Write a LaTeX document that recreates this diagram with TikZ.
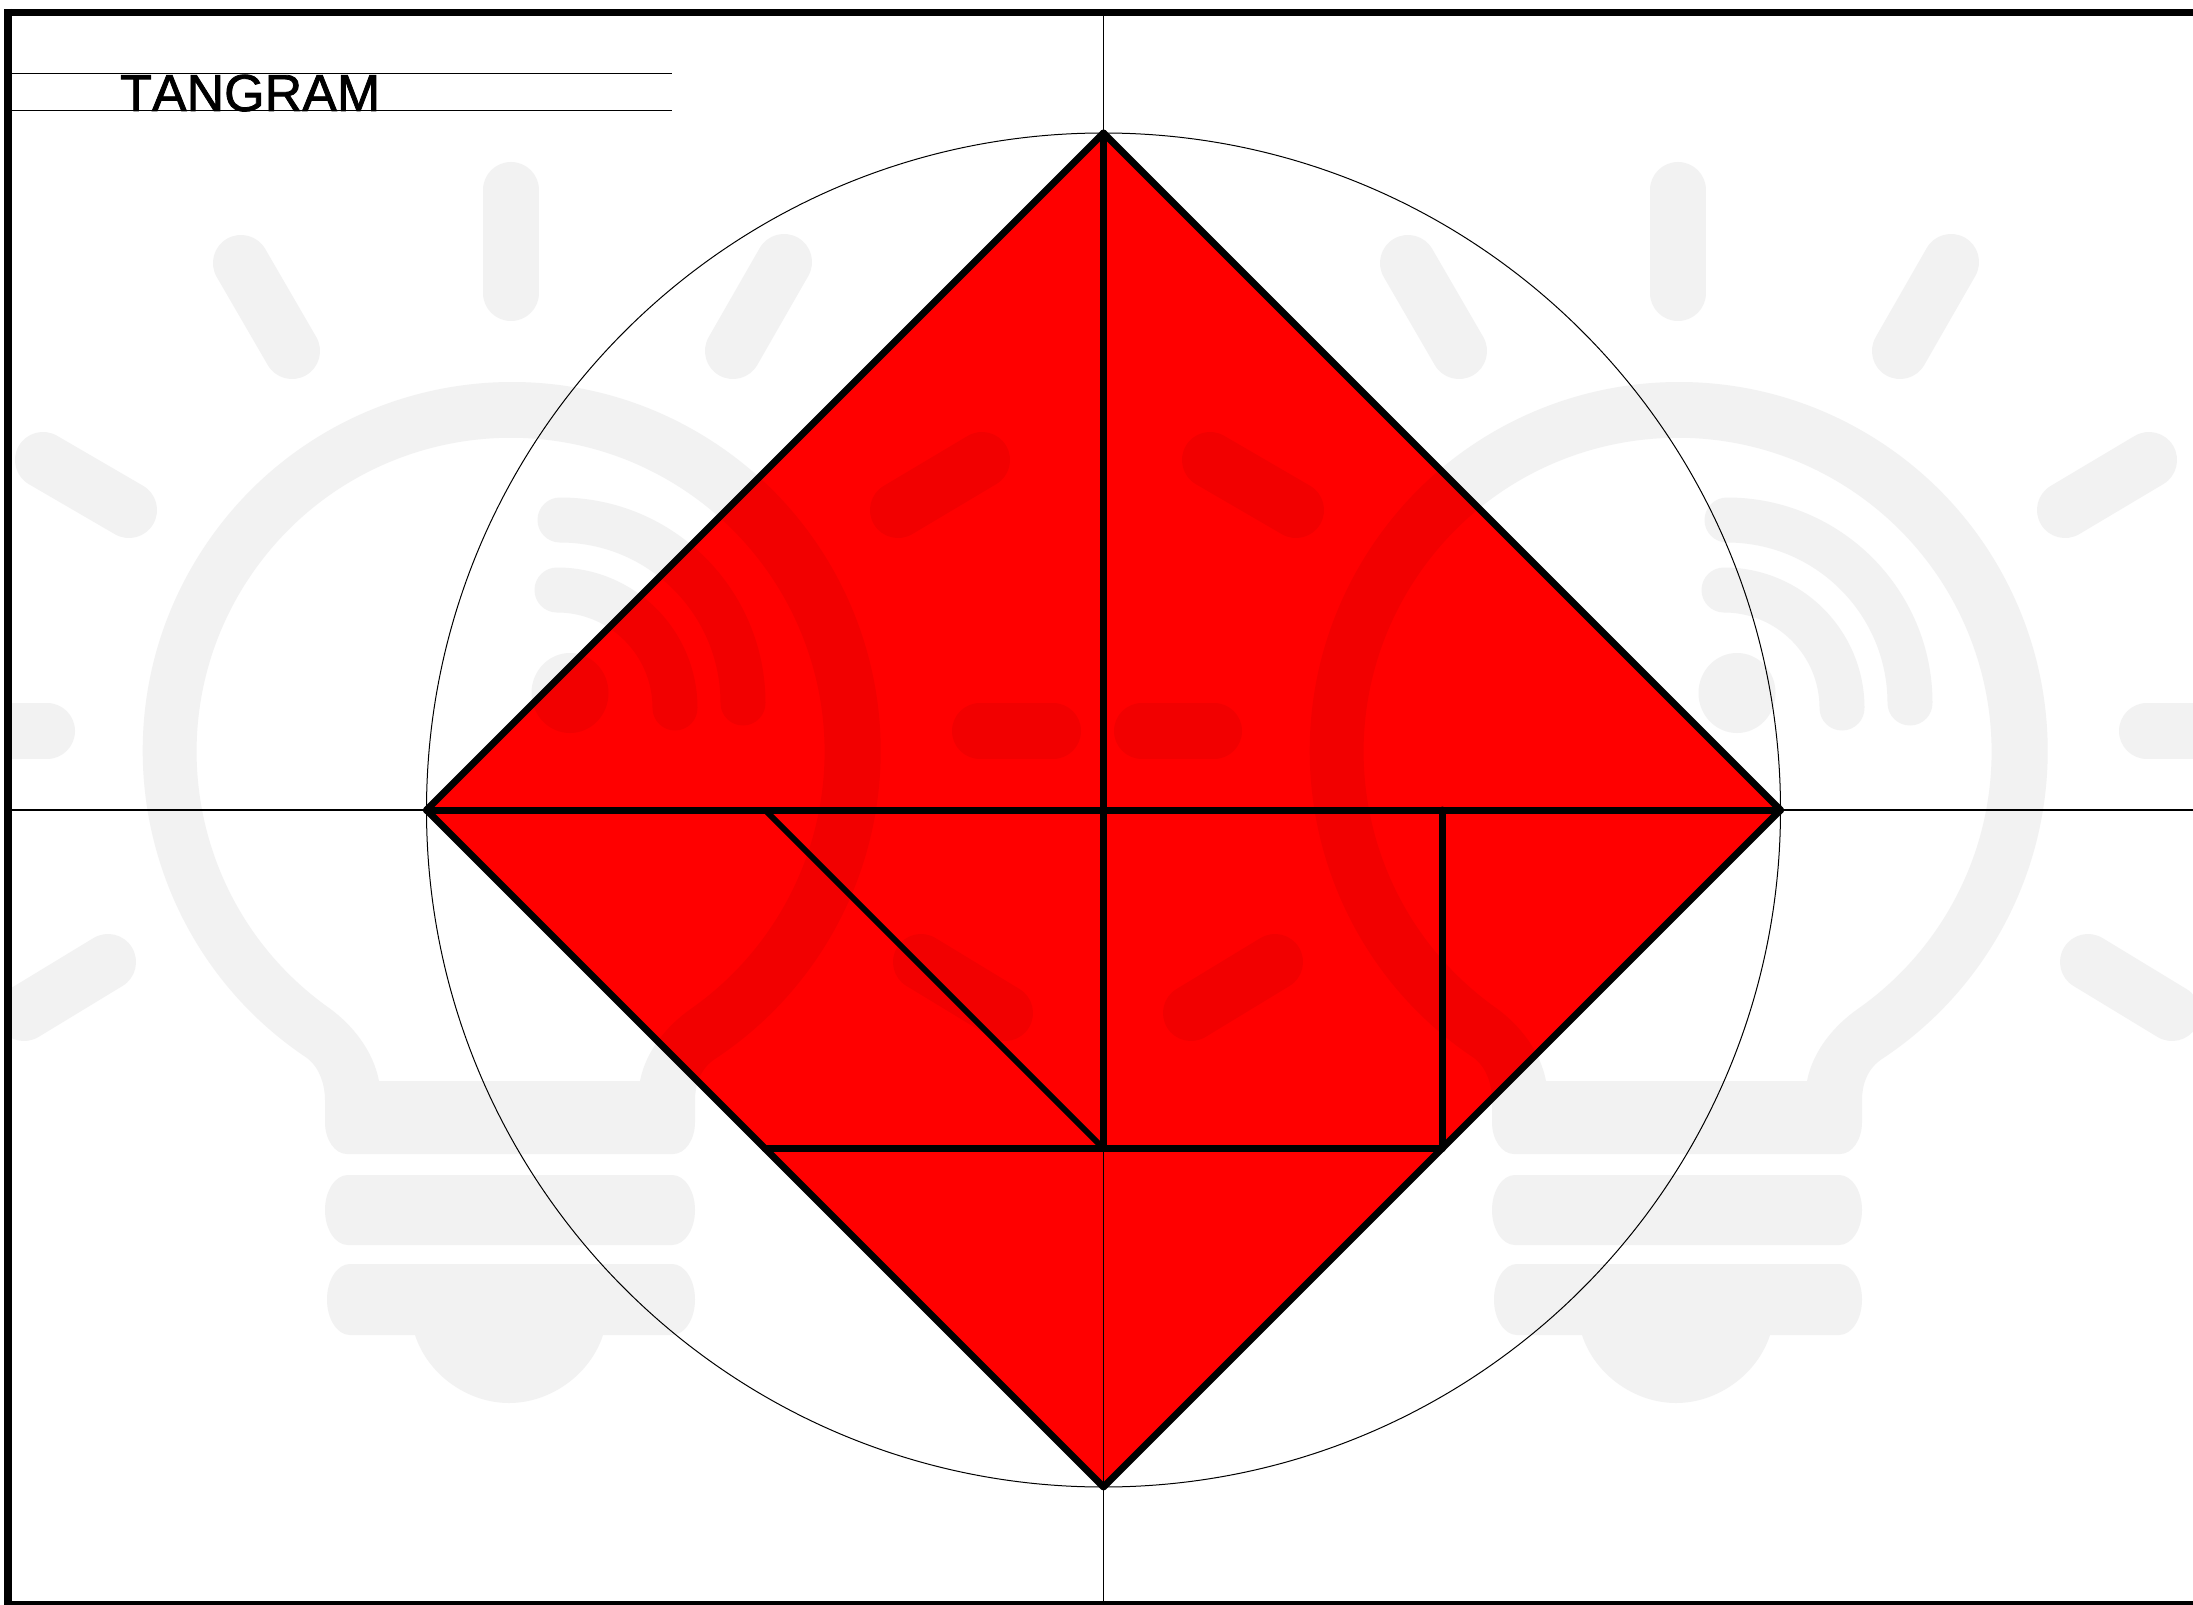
\documentclass[tikz,border=0pt]{standalone}
\usepackage{fontspec}
\setmainfont{Liberation Sans}[Kerning=Off]
\definecolor{wmgray}{HTML}{F2F2F2}
\definecolor{wmred}{HTML}{F20000}
\definecolor{tanred}{HTML}{FF0000}
\newcommand{\bulbshapes}[1]{%
  \fill[#1,even odd rule]
    (307,1058) arc[start angle=123.7,end angle=416.3,radius=369]
    .. controls (700,1068) and (695,1085) .. (695,1100) -- (695,1122)
    .. controls (695,1140) and (685,1154) .. (673,1154) -- (347,1154)
    .. controls (335,1154) and (325,1140) .. (325,1122) -- (325,1100)
    .. controls (325,1085) and (320,1068) .. (307,1058) -- cycle
    (330.5,1009) arc[start angle=125,end angle=415,radius=314]
    .. controls (668,1025) and (646,1050) .. (640,1081) -- (379,1081)
    .. controls (373,1050) and (352,1025) .. (330.5,1009) -- cycle;
  \fill[#1] (348,1175) -- (672,1175) arc[start angle=-90,end angle=90,x radius=23,y radius=35]
    -- (348,1245) arc[start angle=90,end angle=270,x radius=23,y radius=35] -- cycle;
  \fill[#1] (350,1264) -- (672,1264) arc[start angle=-90,end angle=90,x radius=23,y radius=35.5]
    -- (603,1335) .. controls (590,1375) and (550,1403) .. (509,1403)
    .. controls (468,1403) and (428,1375) .. (415,1335)
    -- (350,1335) arc[start angle=90,end angle=270,x radius=23,y radius=35.5] -- cycle;
  \begin{scope}[#1,line cap=round,line width=56pt]
    \draw (511,190) -- (511,293);
    \draw (241,263) -- (292,351);
    \draw (784,262) -- (733,351);
    \draw (43,460) -- (129,510);
    \draw (982,460) -- (898,510);
    \draw (-25,731) -- (47,731);
    \draw (980,731) -- (1053,731);
    \draw (108,962) -- (24,1013);
    \draw (921,962) -- (1005,1013);
  \end{scope}
  \begin{scope}[#1,line cap=round,line width=45pt]
    \draw (560,520) arc[start angle=-90,end angle=0,radius=183];
    \draw (557,590) arc[start angle=-90,end angle=0,radius=118];
  \end{scope}
  \fill[#1] (570,693) ellipse[x radius=38.5,y radius=40];
}
\newcommand{\bothbulbs}[1]{%
  \bulbshapes{#1}%
  \begin{scope}[xshift=1167pt]\bulbshapes{#1}\end{scope}%
}
\tikzset{
  thinline/.style={draw=black,line width=1.1pt},
  thickline/.style={draw=black,line width=7pt,line cap=round},
  rimline/.style={draw=black,line width=7pt,line join=round,line cap=round},
  diagline/.style={draw=black,line width=6pt,line cap=round},
  frameline/.style={draw=black,line cap=butt},
  titletext/.style={inner sep=0pt,anchor=base west,font=\fontsize{52pt}{52pt}\selectfont\addfontfeature{FakeBold=1.5},text=black},
}
\begin{document}
\begin{tikzpicture}[x=1pt,y=1pt,yscale=-1]
  \useasboundingbox (0,0) rectangle (2193,1605);
  \fill[white] (0,0) rectangle (2193,1605);
  \coordinate (T) at (1103.5,133);
  \coordinate (R) at (1780.5,810);
  \coordinate (B) at (1103.5,1487);
  \coordinate (L) at (426.5,810);
  \coordinate (O) at (1103.5,810);
  \coordinate (H1) at (765,810);
  \coordinate (H2) at (1442,810);
  \coordinate (LL) at (765,1148.5);
  \coordinate (MM) at (1103.5,1148.5);
  \coordinate (RR) at (1442,1148.5);
  \coordinate (FT) at (1103.5,12.5);
  \coordinate (FB) at (1103.5,1603);
  \coordinate (FL) at (9,810);
  \coordinate (FR) at (2193,810);
  % watermark
  \begin{scope}
    \clip (4,0) rectangle (2193,1605);
    \bothbulbs{wmgray}
  \end{scope}
  % tangram fill, watermark through it
  \fill[tanred] (T) -- (R) -- (B) -- (L) -- cycle;
  \begin{scope}
    \clip (T) -- (R) -- (B) -- (L) -- cycle;
    \bothbulbs{wmred}
  \end{scope}
  % construction lines
  \draw[thinline] (FL) -- (FR);
  \draw[thinline] (FT) -- (FB);
  \draw[black,line width=1pt] (O) circle[radius=677];
  % tangram pieces
  \draw[rimline] (T) -- (R) -- (B) -- (L) -- cycle;
  \draw[thickline] (T) -- (MM);
  \draw[thickline] (L) -- (R);
  \draw[thickline] (LL) -- (RR);
  \draw[thickline] (H2) -- (RR);
  \draw[diagline] (H1) -- (MM);
  % title
  \draw[black,line width=1pt] (9,74) -- (672,74);
  \draw[black,line width=1pt] (9,111) -- (672,111);
  \node[titletext] (title) at (120,111) {TANGRAM};
  % frame
  \draw[frameline,line width=7.5pt] (4,12.5) -- (2193,12.5);
  \draw[frameline,line width=8pt] (8.3,9) -- (8.3,1605);
  \draw[frameline,line width=4pt] (4,1603) -- (2193,1603);
\end{tikzpicture}
\end{document}
